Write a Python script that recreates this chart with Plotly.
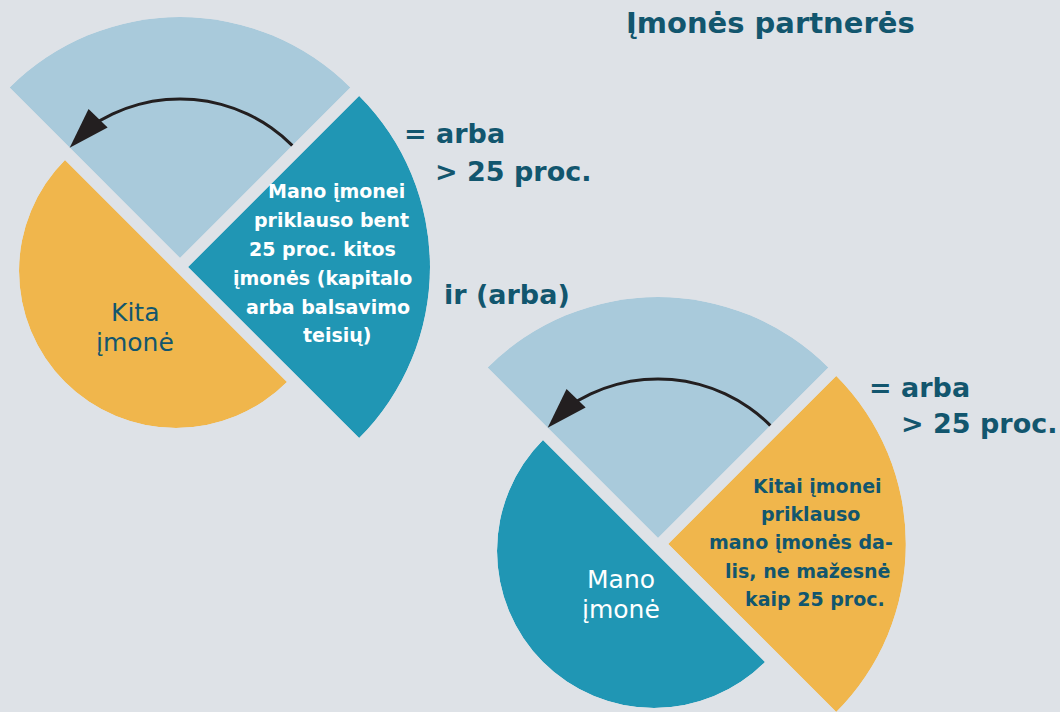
import math
import plotly.graph_objects as go

# ------------------------------------------------------------------ data
piece_keys = ["dalis", "savininkas", "imone"]   # top share slice, pulled-out owner slice, half disc
piece_theta = [90, 0, 225]                      # centre angle of each slice (deg)
piece_span = [90, 90, 180]                      # angular width of each slice (deg)
piece_radius = [241, 242, 157]                  # slice radius (px)

arrow_from_to = [45, 125]                       # arc of the curved arrow (deg)
arrow_radius = 159
arrow_tip = [156, 135]                          # r, theta of arrow tip

title_text = "Įmonės partnerės"
connector_text = "ir (arba)"
rule_lines = ["= arba", "> 25 proc."]
diag1_sector_lines = ["Mano įmonei", "priklauso bent", "25 proc. kitos",
                      "įmonės (kapitalo", "arba balsavimo", "teisių)"]
diag1_half_lines = ["Kita", "įmonė"]
diag2_sector_lines = ["Kitai įmonei", "priklauso", "mano įmonės da-",
                      "lis, ne mažesnė", "kaip 25 proc."]
diag2_half_lines = ["Mano", "įmonė"]

# ------------------------------------------------------------------ style / layout
W, H = 1060, 712
BG = "#dee2e7"
LIGHT = "#a9cadb"
TEAL = "#2096b4"
ORANGE = "#f0b64c"
DARK = "#12566e"
ARROW = "#231f20"
FONT = "DejaVu Sans"

diag_origin = [(0, 0), (478, 280)]
piece_center = [(180, 258), (188, 267), (176, 271)]
diag_colors = [[LIGHT, TEAL, ORANGE], [LIGHT, ORANGE, TEAL]]


def sector_bbox(t0, t1):
    angs = [t0, t1] + [a for a in (-180, -90, 0, 90, 180, 270, 360) if t0 < a < t1]
    xs = [0.0] + [math.cos(math.radians(a)) for a in angs]
    ys = [0.0] + [math.sin(math.radians(a)) for a in angs]
    return min(xs), max(xs), min(ys), max(ys)


def clamp(v):
    return [max(0.0, min(1.0, v[0])), max(0.0, min(1.0, v[1]))]


fig = go.Figure()
layout_polars = {}
idx = 0
for d, (ox, oy) in enumerate(diag_origin):
    for k in range(len(piece_keys)):
        idx += 1
        name = "polar" if idx == 1 else f"polar{idx}"
        t0 = piece_theta[k] - piece_span[k] / 2
        t1 = piece_theta[k] + piece_span[k] / 2
        R = piece_radius[k]
        cx, cy = piece_center[k][0] + ox, piece_center[k][1] + oy
        xmin, xmax, ymin, ymax = sector_bbox(t0, t1)
        dom_x = [(cx + R * xmin) / W, (cx + R * xmax) / W]
        dom_y = [1 - (cy - R * ymin) / H, 1 - (cy - R * ymax) / H]
        fig.add_trace(go.Barpolar(
            r=[R], theta=[piece_theta[k]], width=[piece_span[k]],
            marker=dict(color=diag_colors[d][k], line=dict(width=0)),
            subplot=name, hoverinfo="skip", showlegend=False))
        if k == 0:
            a0, a1 = arrow_from_to
            fig.add_trace(go.Barpolar(
                r=[3], base=[arrow_radius - 1.5], theta=[(a0 + a1) / 2], width=[a1 - a0],
                marker=dict(color=ARROW, line=dict(width=0)),
                subplot=name, hoverinfo="skip", showlegend=False))
            fig.add_trace(go.Scatterpolar(
                r=[arrow_tip[0]], theta=[arrow_tip[1]], mode="markers",
                marker=dict(symbol="arrow", size=43, angle=224, color=ARROW,
                            line=dict(width=0)),
                cliponaxis=False, subplot=name, hoverinfo="skip", showlegend=False))
        layout_polars[name] = dict(
            domain=dict(x=clamp(dom_x), y=clamp(dom_y)),
            sector=[t0, t1], hole=0, bgcolor="rgba(0,0,0,0)", barmode="overlay",
            radialaxis=dict(visible=False, range=[0, R]),
            angularaxis=dict(visible=False))

fig.update_layout(**layout_polars)


def add_text(x, y, text, size, color, bold=False, anchor="center"):
    fig.add_annotation(
        x=x / W, y=1 - y / H, xref="paper", yref="paper",
        text=f"<b>{text}</b>" if bold else text, showarrow=False,
        xanchor=anchor, yanchor="middle",
        font=dict(family=FONT, size=size, color=color))


add_text(770, 23, title_text, 29, DARK, bold=True)
add_text(402, 134, rule_lines[0], 27, DARK, bold=True, anchor="left")
add_text(433, 171, rule_lines[1], 27, DARK, bold=True, anchor="left")
add_text(867, 387, rule_lines[0], 27, DARK, bold=True, anchor="left")
add_text(899, 423, rule_lines[1], 27, DARK, bold=True, anchor="left")
add_text(442, 294, connector_text, 27, DARK, bold=True, anchor="left")

d1x = [336, 331, 322, 322, 328, 337]
d1y = [191, 220, 249, 278, 307, 335]
for t, x, y in zip(diag1_sector_lines, d1x, d1y):
    add_text(x, y, t, 19, "white", bold=True)

d2x = [817, 810, 801, 807, 815]
d2y = [486, 514, 542, 571, 599]
for t, x, y in zip(diag2_sector_lines, d2x, d2y):
    add_text(x, y, t, 19, DARK, bold=True)

for t, y in zip(diag1_half_lines, [312, 342]):
    add_text(135, y, t, 25, DARK)
for t, y in zip(diag2_half_lines, [579, 609]):
    add_text(621, y, t, 25, "white")

fig.update_layout(width=W, height=H, margin=dict(l=0, r=0, t=0, b=0),
                  paper_bgcolor=BG, plot_bgcolor=BG, showlegend=False)

fig.write_html("out.html", config={"displayModeBar": False},
               post_script="document.body.style.margin='0';document.body.style.overflow='hidden';")
